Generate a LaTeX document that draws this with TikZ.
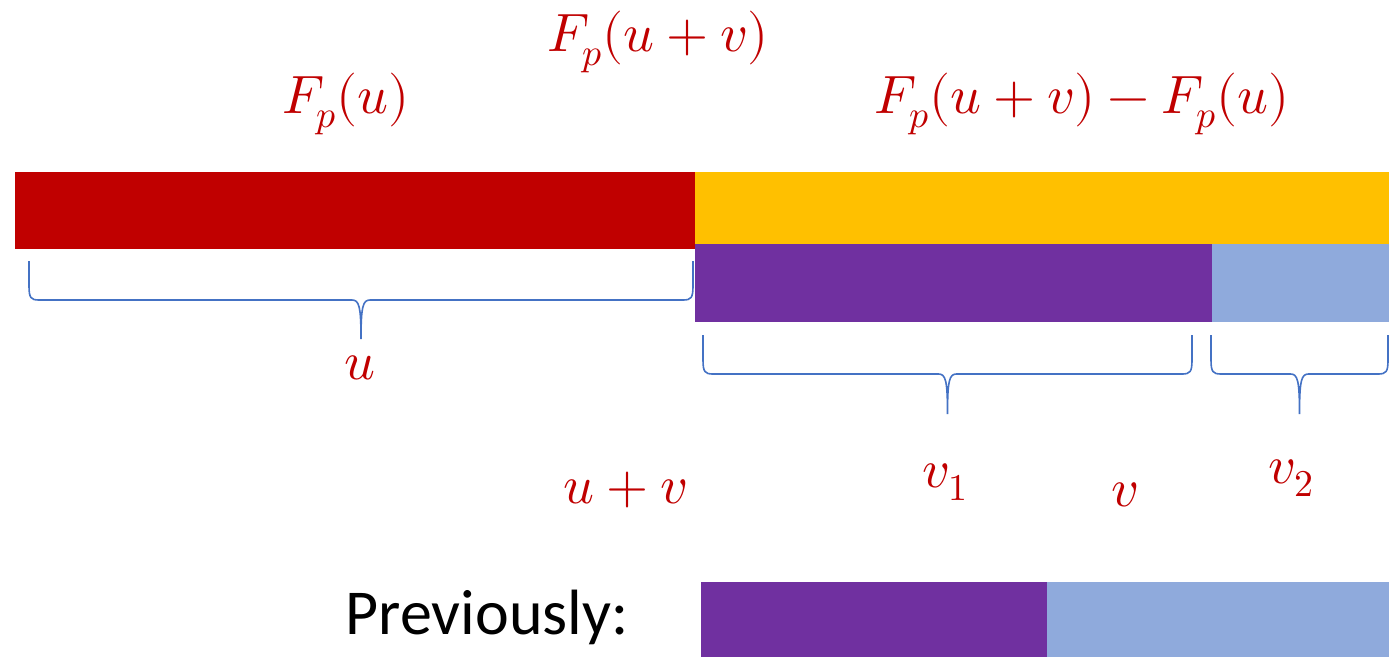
\documentclass[tikz,border=0pt]{standalone}
\usepackage{fontspec}
\usepackage{unicode-math}
\setmainfont{Carlito}
\setmathfont{Latin Modern Math}
\definecolor{barred}{HTML}{C00000}
\definecolor{baryellow}{HTML}{FFC000}
\definecolor{barpurple}{HTML}{7030A0}
\definecolor{barblue}{HTML}{8FAADC}
\definecolor{bracecol}{HTML}{4472C4}
\definecolor{txtred}{HTML}{C00000}
\tikzset{
  bar/.style={draw=none,inner sep=0pt,outer sep=0pt},
  lbl/.style={text=txtred,inner sep=0pt,font=\fontsize{54}{62}\selectfont},
  brace/.style={draw=bracecol,line width=1.6pt},
}
\newcommand{\mybrace}[5]{% x1, x2, top, hy, tip ; mid computed
  \pgfmathsetmacro{\mx}{(#1+#2)/2}
  \draw[brace] (#1,#3) -- (#1,#4-14) .. controls (#1,#4-2) and (#1+2,#4) .. (#1+10,#4)
    -- (\mx-9,#4) .. controls (\mx-2,#4) and (\mx,#4+6) .. (\mx,#5)
    .. controls (\mx,#4+6) and (\mx+2,#4) .. (\mx+9,#4)
    -- (#2-10,#4) .. controls (#2-2,#4) and (#2,#4-2) .. (#2,#4-14) -- (#2,#3);
}
\begin{document}
\begin{tikzpicture}[x=1pt,y=-1pt]
\useasboundingbox (0,0) rectangle (1389,657);
% bars
\fill[barred] (15,172) rectangle (695,249);
\fill[baryellow] (695,172) rectangle (1389,244);
\fill[barpurple] (695,244) rectangle (1212,322);
\fill[barblue] (1212,244) rectangle (1389,322);
\fill[barpurple] (701,582) rectangle (1047,657);
\fill[barblue] (1047,582) rectangle (1389,657);
% braces
\mybrace{29}{693}{261}{300}{339}
\mybrace{703}{1192}{335}{374}{414}
\mybrace{1211}{1388}{335}{374}{414}
% labels
\node[lbl] (fuv) at (658,42) {$F_p(u+v)$};
\node[lbl] (fu) at (346,104) {$F_p(u)$};
\node[lbl] (fdiff) at (1082,104) {$F_p(u+v)-F_p(u)$};
\node[lbl] (u) at (360,368) {$u$};
\node[lbl] (uv) at (625,490) {$u+v$};
\node[lbl] (v1) at (945,482) {$v_1$};
\node[lbl] (v) at (1125,495) {$v$};
\node[lbl] (v2) at (1291,478) {$v_2$};
\node[inner sep=0pt,font=\fontsize{64}{72}\selectfont] (prev) at (487,617) {Previously:};
\end{tikzpicture}
\end{document}
